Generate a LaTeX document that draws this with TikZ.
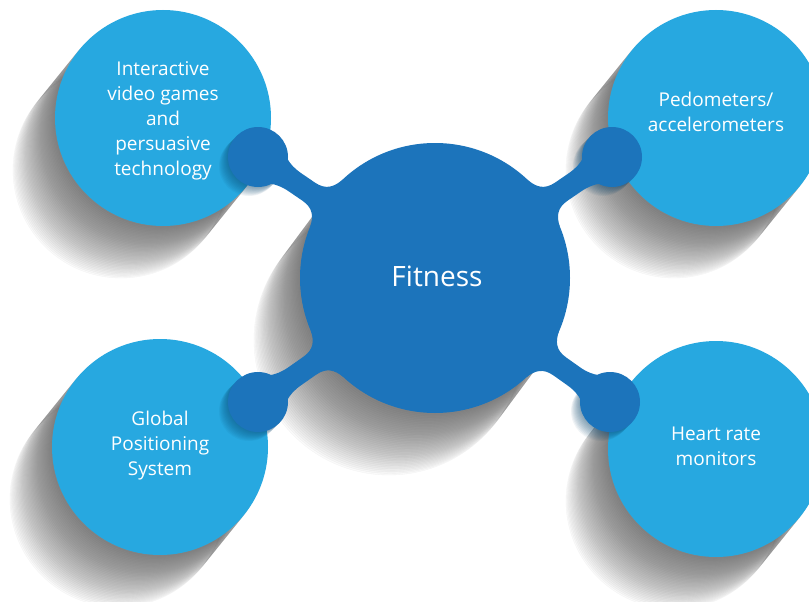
\documentclass[tikz,border=0pt]{standalone}
\usepackage{fontspec}
\setmainfont{Open Sans}
\usetikzlibrary{calc}
\definecolor{lightblue}{RGB}{39,168,224}
\definecolor{darkblue}{RGB}{28,116,187}
\definecolor{shadowgray}{RGB}{70,70,70}
\definecolor{dotshadow}{RGB}{10,70,110}

% shadow: coordinate, radius, dx, dy, steps, style
\newcommand\myshadow[6]{%
  \foreach \i in {1,...,#5}{%
    \path[#6] ($(#1)+(\i*#3/#5,\i*#4/#5)$) circle (#2pt);}}

% stem from small node #1 to hub node #2, half width #3
\newcommand\mystem[3]{%
  \path let \p1=($(#2.center)-(#1.center)$) in
    \pgfextra{\pgfmathsetmacro\stemang{atan2(\y1,\x1)}%
              \pgfmathsetmacro\stemlen{veclen(\x1,\y1)}%
              \xdef\stemA{\stemang}\xdef\stemL{\stemlen}};
  \begin{scope}[shift={(#1.center)},rotate=\stemA]
    \fill[darkblue] (8,28.5) .. controls (20,17) and (28,#3) .. (45,#3)
      -- (\stemL-153,#3) .. controls (\stemL-140,#3) and (\stemL-135,18) .. (\stemL-132,28)
      -- (\stemL-132,-28) .. controls (\stemL-135,-18) and (\stemL-140,-#3) .. (\stemL-153,-#3)
      -- (45,-#3) .. controls (28,-#3) and (20,-17) .. (8,-28.5) -- cycle;
  \end{scope}}

\begin{document}
\begin{tikzpicture}[x=1pt,y=1pt,
  bigcirc/.style={circle,fill=lightblue,minimum size=216pt,inner sep=0pt},
  topictext/.style={text=white,align=center,inner sep=0pt,font=\fontsize{19}{25}\selectfont},
  hubcirc/.style={circle,fill=darkblue,minimum size=270pt,inner sep=0pt},
  hubtext/.style={text=white,inner sep=0pt,font=\fontsize{28}{32}\selectfont},
  dotcirc/.style={circle,fill=darkblue,minimum size=60pt,inner sep=0pt},
  softshadow/.style={fill=shadowgray,fill opacity=0.022,draw=shadowgray,draw opacity=0.05,line width=0.35pt},
  dotshade/.style={fill=dotshadow,fill opacity=0.06}]
\useasboundingbox (0,0) rectangle (809,-602);
\fill[white] (0,0) rectangle (809,-602);

\coordinate (pTL) at (163,-118);
\coordinate (pTR) at (716,-118);
\coordinate (pBL) at (160,-447);
\coordinate (pBR) at (716,-449);
\coordinate (pC)  at (435,-278);
\coordinate (qTL) at (258,-157);
\coordinate (qTR) at (612,-157);
\coordinate (qBL) at (258,-402);
\coordinate (qBR) at (610,-402);

% soft shadows of the large circles
\myshadow{pTL}{108}{-42}{-52}{40}{softshadow}
\myshadow{pTR}{108}{-42}{-52}{40}{softshadow}
\myshadow{pBL}{108}{-42}{-52}{40}{softshadow}
\myshadow{pBR}{108}{-42}{-52}{40}{softshadow}
\myshadow{pC}{135}{-46}{-62}{40}{softshadow}

% topic circles
\node[bigcirc] (tl) at (pTL) {};
\node[bigcirc] (tr) at (pTR) {};
\node[bigcirc] (bl) at (pBL) {};
\node[bigcirc] (br) at (pBR) {};

% shadows of the small connector circles
\myshadow{qTL}{30}{-9}{-9}{10}{dotshade}
\myshadow{qTR}{30}{-9}{-9}{10}{dotshade}
\myshadow{qBL}{30}{-9}{-9}{10}{dotshade}
\myshadow{qBR}{30}{-9}{-9}{10}{dotshade}

% connector dots and hub
\node[dotcirc] (dtl) at (qTL) {};
\node[dotcirc] (dtr) at (qTR) {};
\node[dotcirc] (dbl) at (qBL) {};
\node[dotcirc] (dbr) at (qBR) {};
\node[hubcirc] (hub) at (pC) {};

\mystem{dtl}{hub}{11}
\mystem{dtr}{hub}{11}
\mystem{dbl}{hub}{11}
\mystem{dbr}{hub}{11}

% texts
\node[topictext] (ttl) at (163,-121) {Interactive\\video games\\and\\persuasive\\technology};
\node[topictext] (ttr) at (716,-112) {Pedometers/\\accelerometers};
\node[topictext] (tbl) at (160,-446) {Global\\Positioning\\System};
\node[topictext] (tbr) at (716,-446) {Heart rate\\monitors};
\node[hubtext] (thub) at (437,-276) {Fitness};
\end{tikzpicture}
\end{document}
